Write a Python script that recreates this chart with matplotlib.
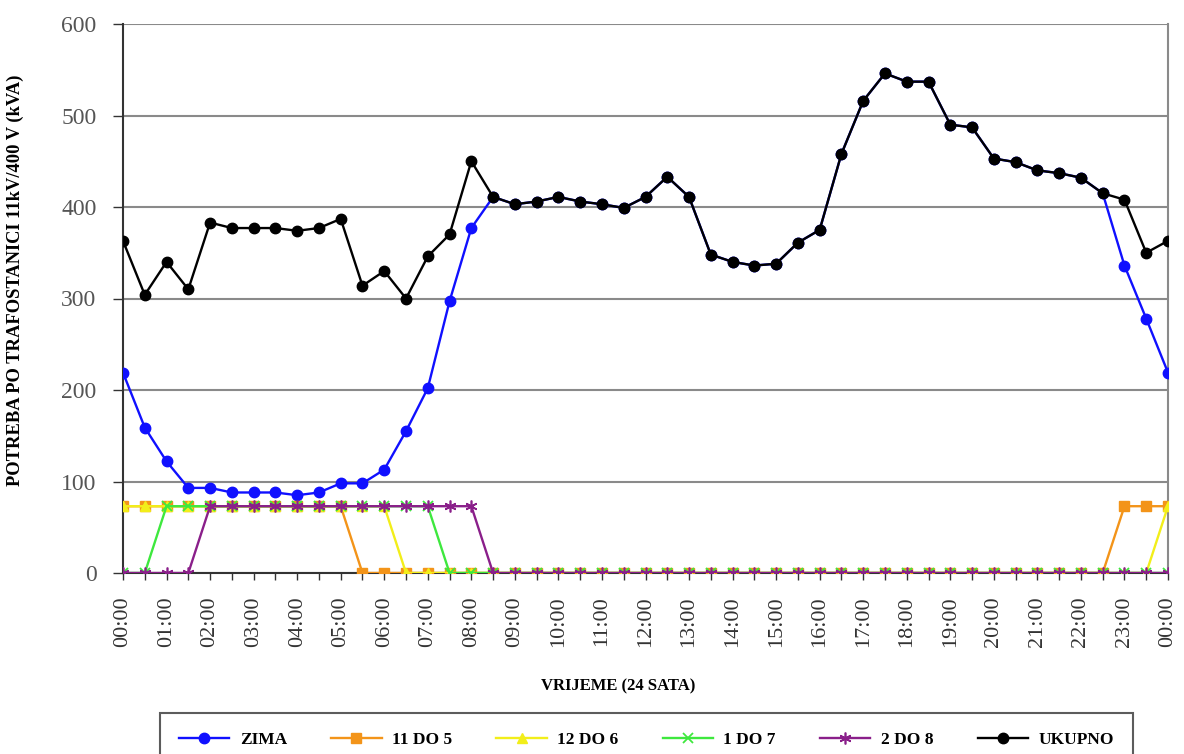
import matplotlib
matplotlib.use("Agg")
import matplotlib.pyplot as plt
from matplotlib.ticker import MultipleLocator, FixedLocator

# ---- data (half-hour steps, 00:00 .. 24:00) ----
hour_labels = ["00:00", "01:00", "02:00", "03:00", "04:00", "05:00", "06:00", "07:00",
               "08:00", "09:00", "10:00", "11:00", "12:00", "13:00", "14:00", "15:00",
               "16:00", "17:00", "18:00", "19:00", "20:00", "21:00", "22:00", "23:00", "00:00"]

zima = [219, 159, 122, 93, 93, 88, 88, 88, 85, 88, 98, 98, 113, 155, 202, 297, 377,
        411, 403, 406, 411, 406, 403, 399, 411, 433, 411, 348, 340, 336, 338, 361, 375,
        458, 516, 546, 537, 537, 490, 487, 453, 449, 440, 437, 432, 415, 336, 278, 219]

d11_5 = [73, 73, 73, 73, 73, 73, 73, 73, 73, 73, 73, 0, 0, 0, 0, 0, 0,
         0, 0, 0, 0, 0, 0, 0, 0, 0, 0, 0, 0, 0, 0, 0, 0,
         0, 0, 0, 0, 0, 0, 0, 0, 0, 0, 0, 0, 0, 73, 73, 73]

d12_6 = [73, 73, 73, 73, 73, 73, 73, 73, 73, 73, 73, 73, 73, 0, 0, 0, 0,
         0, 0, 0, 0, 0, 0, 0, 0, 0, 0, 0, 0, 0, 0, 0, 0,
         0, 0, 0, 0, 0, 0, 0, 0, 0, 0, 0, 0, 0, 0, 0, 73]

d1_7 = [0, 0, 73, 73, 73, 73, 73, 73, 73, 73, 73, 73, 73, 73, 73, 0, 0,
        0, 0, 0, 0, 0, 0, 0, 0, 0, 0, 0, 0, 0, 0, 0, 0,
        0, 0, 0, 0, 0, 0, 0, 0, 0, 0, 0, 0, 0, 0, 0, 0]

d2_8 = [0, 0, 0, 0, 73, 73, 73, 73, 73, 73, 73, 73, 73, 73, 73, 73, 73,
        0, 0, 0, 0, 0, 0, 0, 0, 0, 0, 0, 0, 0, 0, 0, 0,
        0, 0, 0, 0, 0, 0, 0, 0, 0, 0, 0, 0, 0, 0, 0, 0]

ukupno = [363, 304, 340, 310, 383, 377, 377, 377, 374, 377, 387, 314, 330, 300, 346, 370, 450,
          411, 403, 406, 411, 406, 403, 399, 411, 433, 411, 348, 340, 336, 338, 361, 375,
          458, 516, 546, 537, 537, 490, 487, 453, 449, 440, 437, 432, 415, 408, 350, 363]

series_names = ["ZIMA", "11 DO 5", "12 DO 6", "1 DO 7", "2 DO 8", "UKUPNO"]

# ---- figure ----
plt.rcParams["font.family"] = ["Liberation Serif", "DejaVu Serif"]
W, H = 1184, 754
fig = plt.figure(figsize=(W / 100, H / 100), dpi=100)
ax = fig.add_axes([123 / W, (H - 573) / H, (1168 - 123) / W, (573 - 24) / H])

x = list(range(len(ukupno)))
lw = 1.7
ax.plot(x, zima, color="#1010ff", lw=lw, marker="o", ms=7.5, label=series_names[0], zorder=3)
ax.plot(x, d11_5, color="#f39419", lw=lw, marker="s", ms=7.5, label=series_names[1], zorder=3)
ax.plot(x, d12_6, color="#f2ee1a", lw=lw, marker="^", ms=7.5, label=series_names[2], zorder=3)
ax.plot(x, d1_7, color="#3ee83e", lw=lw, marker="x", ms=7.5, mew=1.3, label=series_names[3], zorder=3)
ax.plot(x, d2_8, color="#8a1f8a", lw=lw, marker=(6, 2, 0), ms=8.5, mew=1.2, label=series_names[4], zorder=3)
ax.plot(x, ukupno, color="black", lw=lw, marker="o", ms=7.5, label=series_names[5], zorder=4)

ax.set_xlim(0, len(ukupno) - 1)
ax.set_ylim(0, 600)
ax.yaxis.set_major_locator(MultipleLocator(100))
ax.grid(axis="y", color="#8a8a8a", lw=1.5)
ax.set_axisbelow(True)

ax.xaxis.set_major_locator(FixedLocator(list(range(0, len(ukupno), 2))))
ax.set_xticklabels(hour_labels)
ax.xaxis.set_minor_locator(MultipleLocator(1))
ax.tick_params(axis="x", which="both", direction="out", length=5, width=1, color="#333333")
ax.tick_params(axis="x", which="major", pad=12, labelsize=16, labelrotation=90, labelcolor="#333333")
ax.tick_params(axis="y", which="major", direction="out", length=7, width=1, color="#333333",
               pad=12, labelsize=17, labelcolor="#555555")

for s in ["left", "bottom"]:
    ax.spines[s].set_color("#333333")
    ax.spines[s].set_linewidth(1.5)
ax.spines["top"].set_visible(False)
ax.spines["right"].set_color("#8a8a8a")
ax.spines["right"].set_linewidth(1.5)

fig.text(15 / W, 1 - 280 / H, "POTREBA PO TRAFOSTANICI 11kV/400 V (kVA)", rotation=90,
         ha="center", va="center", fontsize=13.3, fontweight="bold")
fig.text(618 / W, 1 - 686 / H, "VRIJEME (24 SATA)", ha="center", va="center",
         fontsize=12, fontweight="bold")

leg = fig.legend(loc="upper left", bbox_to_anchor=(160 / W, 1 - 713 / H), ncol=6,
                 frameon=True, fancybox=False, edgecolor="#333333",
                 prop={"weight": "bold", "size": 12.5}, handlelength=2.9, handletextpad=0.6,
                 columnspacing=2.55, borderpad=1.1, borderaxespad=0)
leg.get_frame().set_linewidth(1.5)

fig.savefig("out.png", dpi=100)
